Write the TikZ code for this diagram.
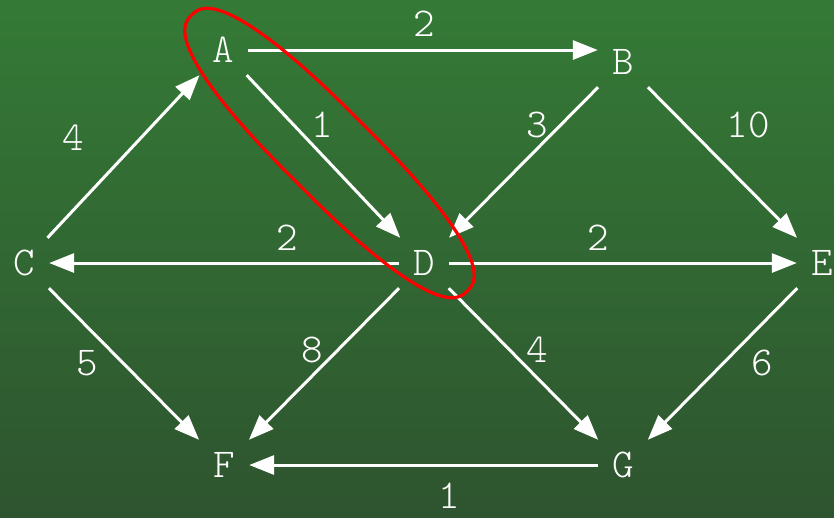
\documentclass[tikz,border=0pt]{standalone}
\usepackage{tikz}
\usetikzlibrary{arrows.meta, positioning, shapes.geometric, calc}

\definecolor{bgtop}{RGB}{52,122,54}
\definecolor{bgbot}{RGB}{46,84,47}

\begin{document}
\begin{tikzpicture}[
  x=1pt, y=-1pt,
  vertex/.style={minimum width=50pt, minimum height=50pt, inner sep=0pt, text=white, font=\fontsize{41}{41}\ttfamily\fontseries{l}\selectfont},
  weight/.style={inner sep=0pt, text=white, font=\fontsize{41}{41}\ttfamily\fontseries{l}\selectfont},
  arrow/.style={-{Triangle[length=25pt, width=19pt]}, line width=3pt, white},
  ring/.style={draw=red, line width=3.2pt},
]

% Background
\shade[top color=bgtop, bottom color=bgbot] (0,0) rectangle (834,517);
\useasboundingbox (0,0) rectangle (834,517);

% Vertices
\node[vertex] (A) at (223,50) {A};
\node[vertex] (B) at (623,62) {B};
\node[vertex] (C) at (24,263) {C};
\node[vertex] (D) at (424,263) {D};
\node[vertex] (E) at (822,263) {E};
\node[vertex] (F) at (224,465) {F};
\node[vertex] (G) at (623,465) {G};

% Edges
\draw[arrow] (A.east) -- (A.east -| B.west);
\draw[arrow] (A) -- (D);
\draw[arrow] (B) -- (D);
\draw[arrow] (B) -- (E);
\draw[arrow] (C) -- (A);
\draw[arrow] (D) -- (C);
\draw[arrow] (D) -- (E);
\draw[arrow] (C) -- (F);
\draw[arrow] (D) -- (F);
\draw[arrow] (D) -- (G);
\draw[arrow] (E) -- (G);
\draw[arrow] (G) -- (F);

% Weights
\node[weight] (wab) at (424,24) {2};
\node[weight] (wad) at (322,125) {1};
\node[weight] (wbd) at (537,125) {3};
\node[weight] (wbe) at (748,125) {10};
\node[weight] (wca) at (73,138) {4};
\node[weight] (wdc) at (287,238) {2};
\node[weight] (wde) at (598,238) {2};
\node[weight] (wcf) at (87,363) {5};
\node[weight] (wdf) at (312,350) {8};
\node[weight] (wdg) at (537,350) {4};
\node[weight] (weg) at (762,363) {6};
\node[weight] (wgf) at (449,496) {1};

% Selected pair (A and D)
\begin{scope}[shift={(329.5,153)}, rotate=-45]
  \draw[ring] plot[domain=1:361, samples=121, smooth cycle]
    ({195*sign(cos(\x))*pow(abs(cos(\x)),0.8)}, {44*sign(sin(\x))*pow(abs(sin(\x)),0.8)});
\end{scope}

\end{tikzpicture}
\end{document}
